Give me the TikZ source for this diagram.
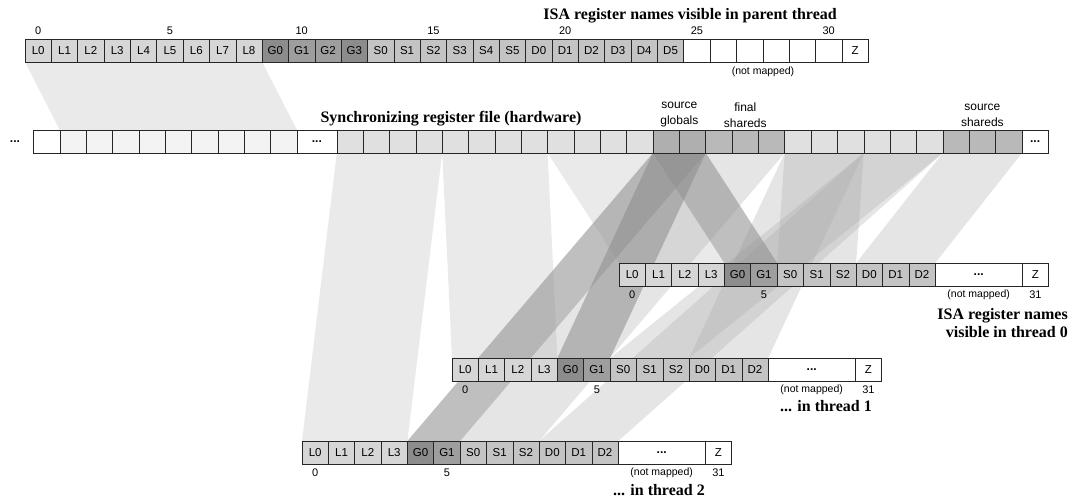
\documentclass[tikz,border=0pt]{standalone}
\usepackage{fontspec}
\setmainfont{Liberation Serif}
\setsansfont{Liberation Sans}
\usetikzlibrary{backgrounds,calc}
\definecolor{cL}{HTML}{D6D6D6}
\definecolor{cG}{HTML}{8C8C8C}
\definecolor{cGb}{HTML}{9E9E9E}
\definecolor{cS}{HTML}{C4C4C4}
\definecolor{cD}{HTML}{C4C4C4}
\definecolor{cH}{HTML}{F3F3F3}
\definecolor{cK}{HTML}{E0E0E0}
\definecolor{cSG}{HTML}{AFAFAF}
\definecolor{cSS}{HTML}{B9B9B9}
\tikzset{
  cell/.style={draw=black!85, line width=0.6pt, minimum width=26.35pt, minimum height=23pt,
    inner sep=0pt, outer sep=0pt, anchor=north west, font=\sffamily\fontsize{11.5}{12}\selectfont},
  num/.style={font=\sffamily\fontsize{11}{12}\selectfont, inner sep=0pt},
  nm/.style={font=\sffamily\fontsize{10.5}{11}\selectfont, inner sep=0pt},
  lbl/.style={font=\sffamily\fontsize{12}{16}\selectfont, inner sep=0pt, align=center},
  ttl/.style={font=\bfseries\fontsize{16}{19}\selectfont, inner sep=0pt},
  dots/.style={font=\sffamily\bfseries\fontsize{12}{12}\selectfont},
  bandL/.style={fill=black!50, fill opacity=0.16},
  bandS/.style={fill=black!33, fill opacity=0.3},
  bandG/.style={fill=black!45, fill opacity=0.55},
}
\begin{document}
\begin{tikzpicture}[x=1pt,y=-1pt]
\useasboundingbox (0,0) rectangle (1072,502);
% ---------- parent row ----------
\node[ttl, anchor=base east] (ttop) at (837,20) {ISA register names visible in parent thread};
\foreach \lab/\col [count=\i from 0] in {L0/cL,L1/cL,L2/cL,L3/cL,L4/cL,L5/cL,L6/cL,L7/cL,L8/cL,
  G0/cG,G1/cGb,G2/cGb,G3/cG,S0/cS,S1/cS,S2/cS,S3/cS,S4/cS,S5/cS,D0/cD,D1/cD,D2/cD,D3/cD,D4/cD,D5/cD,
  {}/white,{}/white,{}/white,{}/white,{}/white,{}/white,Z/white}
  \node[cell, fill=\col] (p\i) at ({25+\i*26.35},39) {\lab};
\foreach \n in {0,5,10,15,20,25,30}
  \node[num] (pn\n) at ({25+(\n+0.5)*26.35},31) {\n};
\node[nm] (pnm) at (763,72) {(not mapped)};
% ---------- hardware row ----------
\node[dots, inner sep=0pt] (hld) at (15,142) {...};
\node[cell, fill=white] (h0) at (33.5,130) {};
\foreach \i in {1,...,9}
  \node[cell, fill=cH] (h\i) at ({33.5+\i*26.35},130) {};
\node[cell, fill=white, minimum width=39.8pt, dots] (hdots) at (297,130) {...};
\foreach \col [count=\i from 0] in {cK,cK,cK,cK,cK,cK,cK,cK,cK,cK,cK,cK,cSG,cSG,cSS,cSS,cSS,cK,cK,cK,cK,cK,cK,cSS,cSS,cSS}
  \node[cell, fill=\col] (k\i) at ({336.8+\i*26.35},130) {};
\node[cell, fill=white, dots] (kdots) at (1021.9,130) {...};
\node[ttl, anchor=base] (thw) at (451,123) {Synchronizing register file (hardware)};
\node[lbl] (lsg) at (679.4,115) {source\\globals};
\node[lbl] (lfs) at (745.3,115) {final\\shareds};
\node[lbl] (lss) at (982.4,115) {source\\shareds};
% ---------- thread rows ----------
\foreach \t/\tx/\ty in {0/619/263, 1/452/358, 2/302/441} {
  \foreach \lab/\col [count=\i from 0] in {L0/cL,L1/cL,L2/cL,L3/cL,G0/cG,G1/cGb,S0/cS,S1/cS,S2/cS,D0/cD,D1/cD,D2/cD}
    \node[cell, fill=\col] (t\t-\i) at ({\tx+\i*26.35},\ty) {\lab};
  \node[cell, fill=white, minimum width=87pt, dots] (t\t-w) at ({\tx+12*26.35},\ty) {...};
  \node[cell, fill=white] (t\t-z) at ({\tx+12*26.35+87},\ty) {Z};
  \node[num] (t\t-n0) at ($(t\t-0.south)+(0,9)$) {0};
  \node[num] (t\t-n5) at ($(t\t-5.south)+(0,9)$) {5};
  \node[nm] (t\t-nm) at ($(t\t-w.south)+(0,9)$) {(not mapped)};
  \node[num] (t\t-n31) at ($(t\t-z.south)+(0,9)$) {31};
}
\node[ttl, anchor=base east] (tt0a) at (1068,320) {ISA register names};
\node[ttl, anchor=base east] (tt0b) at (1068,338) {visible in thread 0};
\node[ttl, anchor=base east] (tt1) at (872,412) {... in thread 1};
\node[ttl, anchor=base east] (tt2) at (705,496) {... in thread 2};
% ---------- bands ----------
\begin{scope}[on background layer]
  \fill[white] (0,0) rectangle (1072,502);
  \fill[bandL] (p0.south west) -- (p8.south east) -- (h9.north east) -- (h1.north west) -- cycle;
  \fill[bandL] (k0.south west) -- (k3.south east) -- (t2-3.north east) -- (t2-0.north west) -- cycle;
  \fill[bandL] (k4.south west) -- (k7.south east) -- (t1-3.north east) -- (t1-0.north west) -- cycle;
  \fill[bandL] (k8.south west) -- (k11.south east) -- (t0-3.north east) -- (t0-0.north west) -- cycle;
  \fill[bandS] (k14.south west) -- (k16.south east) -- (t2-8.north east) -- (t2-6.north west) -- cycle;
  \fill[bandS] (k17.south west) -- (k19.south east) -- (t0-8.north east) -- (t0-6.north west) -- cycle;
  \fill[bandS] (k17.south west) -- (k19.south east) -- (t1-11.north east) -- (t1-9.north west) -- cycle;
  \fill[bandS] (k20.south west) -- (k22.south east) -- (t1-8.north east) -- (t1-6.north west) -- cycle;
  \fill[bandS] (k20.south west) -- (k22.south east) -- (t2-11.north east) -- (t2-9.north west) -- cycle;
  \fill[bandS] (k23.south west) -- (k25.south east) -- (t0-11.north east) -- (t0-9.north west) -- cycle;
  \foreach \t in {0,1,2}
    \fill[bandG] (k12.south west) -- (k13.south east) -- (t\t-5.north east) -- (t\t-4.north west) -- cycle;
\end{scope}
\end{tikzpicture}
\end{document}
